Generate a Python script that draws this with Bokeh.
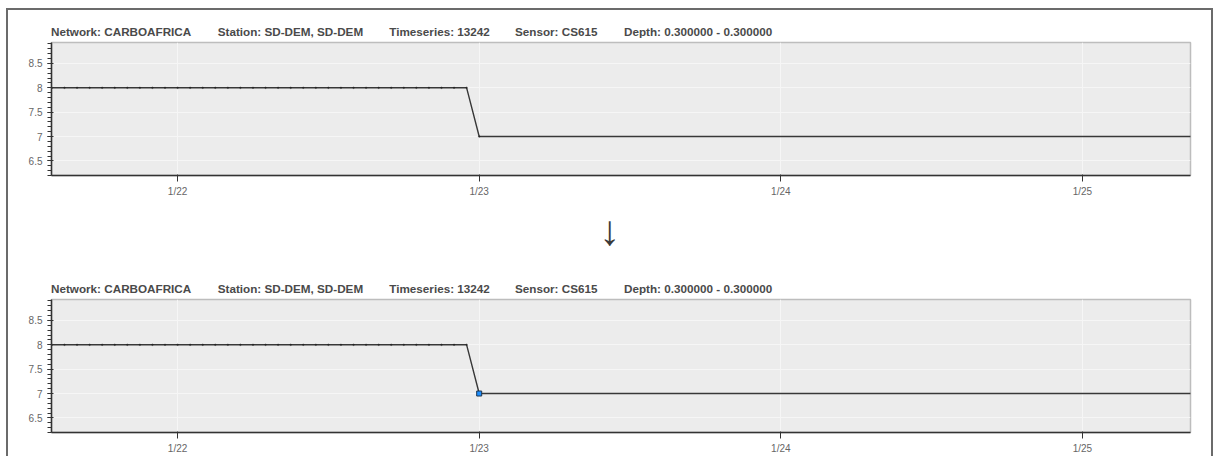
import pandas as pd
from bokeh.plotting import figure
from bokeh.models import Range1d, Div, SingleIntervalTicker, FixedTicker, CustomJSTickFormatter
from bokeh.layouts import column
from bokeh.embed import file_html
from bokeh.resources import INLINE

# ---- data ----
series_times = [
    "2009-01-21 13:00", "2009-01-21 14:00", "2009-01-21 15:00", "2009-01-21 16:00",
    "2009-01-21 17:00", "2009-01-21 18:00", "2009-01-21 19:00", "2009-01-21 20:00",
    "2009-01-21 21:00", "2009-01-21 22:00", "2009-01-21 23:00", "2009-01-22 00:00",
    "2009-01-22 01:00", "2009-01-22 02:00", "2009-01-22 03:00", "2009-01-22 04:00",
    "2009-01-22 05:00", "2009-01-22 06:00", "2009-01-22 07:00", "2009-01-22 08:00",
    "2009-01-22 09:00", "2009-01-22 10:00", "2009-01-22 11:00", "2009-01-22 12:00",
    "2009-01-22 13:00", "2009-01-22 14:00", "2009-01-22 15:00", "2009-01-22 16:00",
    "2009-01-22 17:00", "2009-01-22 18:00", "2009-01-22 19:00", "2009-01-22 20:00",
    "2009-01-22 21:00", "2009-01-22 22:00", "2009-01-22 23:00",
    "2009-01-23 00:00", "2009-01-26 00:00",
]
series_values = [
    8.0, 8.0, 8.0, 8.0, 8.0, 8.0, 8.0, 8.0, 8.0, 8.0, 8.0, 8.0,
    8.0, 8.0, 8.0, 8.0, 8.0, 8.0, 8.0, 8.0, 8.0, 8.0, 8.0, 8.0,
    8.0, 8.0, 8.0, 8.0, 8.0, 8.0, 8.0, 8.0, 8.0, 8.0, 8.0,
    7.0, 7.0,
]
selected_times = ["2009-01-23 00:00"]
selected_values = [7.0]

x_tick_dates = ["2009-01-22", "2009-01-23", "2009-01-24", "2009-01-25"]
x_tick_labels = ["1/22", "1/23", "1/24", "1/25"]
x_view = ["2009-01-21 13:58", "2009-01-25 08:36"]
y_view = [6.2, 8.93]

title_parts = ["Network: CARBOAFRICA", "Station: SD-DEM, SD-DEM", "Timeseries: 13242",
               "Sensor: CS615", "Depth: 0.300000 - 0.300000"]
title_left = [43, 209.7, 381.3, 507, 616]

FONT = "'Liberation Sans', Arial, sans-serif"
xs = pd.to_datetime(series_times)
sel_x = pd.to_datetime(selected_times)
tick_ms = [pd.Timestamp(d).value / 1e6 for d in x_tick_dates]


def title_div():
    spans = "".join(
        f'<span style="position:absolute;left:{l}px;top:16px;line-height:12px;white-space:nowrap">{t}</span>'
        for t, l in zip(title_parts, title_left))
    html = (f'<div style="position:relative;width:1203px;height:30px;font-family:{FONT};'
            f'font-weight:bold;font-size:11.7px;color:#4a4a4a">{spans}</div>')
    return Div(text=html, width=1203, height=30, margin=0)


def make_plot(selected=False, bottom=25):
    p = figure(x_axis_type="datetime", frame_width=1139, frame_height=133,
               min_border_left=43, min_border_right=21, min_border_top=2, min_border_bottom=bottom,
               x_range=Range1d(*pd.to_datetime(x_view)), y_range=Range1d(*y_view),
               output_backend="svg", toolbar_location=None,
               background_fill_color="#ececec", border_fill_color="white",
               outline_line_color="#bdbdbd", outline_line_width=1.5)
    p.line(xs, series_values, line_color="#383838", line_width=1.4)
    p.scatter(xs, series_values, size=1.6, color="#1a1a1a", alpha=0.4)
    if selected:
        p.scatter(sel_x, selected_values, marker="square", size=5,
                  fill_color="#1e8fff", line_color="#1d3550", line_width=1)

    p.xaxis.ticker = FixedTicker(ticks=tick_ms)
    p.xaxis.formatter = CustomJSTickFormatter(
        args=dict(tvals=tick_ms, tlabels=x_tick_labels),
        code="const i = tvals.indexOf(tick); return i >= 0 ? tlabels[i] : '';")
    p.yaxis.ticker = SingleIntervalTicker(interval=0.5, num_minor_ticks=5)
    p.yaxis.formatter = CustomJSTickFormatter(code="return String(tick);")

    for ax in (p.xaxis[0], p.yaxis[0]):
        ax.axis_line_color = "#333333"
        ax.axis_line_width = 1.5
        ax.major_tick_line_color = "#333333"
        ax.minor_tick_line_color = "#333333"
        ax.major_label_text_font = FONT
        ax.major_label_text_font_size = "10px"
        ax.major_label_text_color = "#666666"
    p.xaxis.major_tick_out = 6
    p.xaxis.major_tick_in = 1
    p.xaxis.minor_tick_out = 0
    p.xaxis.major_label_standoff = 4
    p.yaxis.major_tick_out = 4
    p.yaxis.major_tick_in = 2
    p.yaxis.minor_tick_out = 4
    p.yaxis.minor_tick_in = 0
    p.yaxis.major_label_standoff = 5

    p.grid.grid_line_color = "#f6f6f6"
    p.grid.grid_line_width = 1
    return p


arrow = Div(text=(f'<div style="position:relative;width:1203px;height:67px">'
                  f'<span style="position:absolute;left:591px;top:10px;font-family:{FONT};'
                  f'font-size:42px;line-height:42px;color:#3a3a3a">&#8595;</span></div>'),
            width=1203, height=67, margin=0)

layout = column(title_div(), make_plot(False, 25), arrow, title_div(), make_plot(True, 20),
                spacing=0,
                styles={"border": "2px solid #6b6b6b", "border-bottom": "none",
                        "margin-left": "6px", "margin-top": "8px"})

open("out.html", "w").write(file_html(layout, INLINE))
